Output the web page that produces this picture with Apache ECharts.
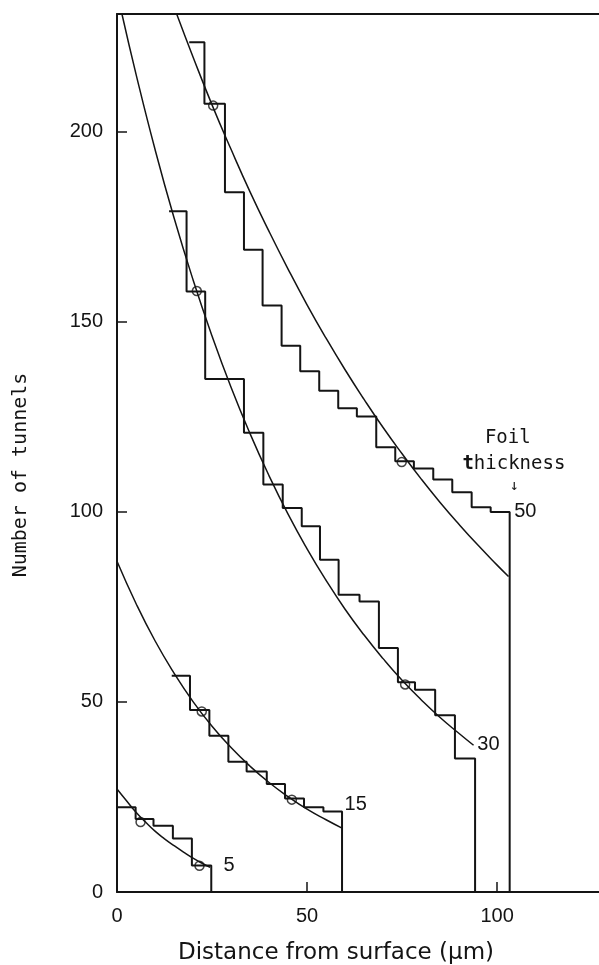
<!DOCTYPE html>
<html>
<head>
<meta charset="utf-8">
<script src="https://cdn.jsdelivr.net/npm/echarts@6.0.0/dist/echarts.min.js"></script>
<style>
html,body{margin:0;padding:0;background:#fff;}
#main{width:599px;height:965px;}
</style>
</head>
<body>
<div id="main"></div>
<script>
// tick labels
var xTicks = [0, 50, 100];
var yTicks = [0, 50, 100, 150, 200];

// histograms: bin edges (um) and tunnel counts per bin, one per foil thickness
var edges50  = [19.0, 23.0, 28.4, 33.4, 38.3, 43.3, 48.2, 53.2, 58.2, 63.1, 68.2, 73.2, 78.1, 83.2, 88.2, 93.3, 98.3, 103.3];
var counts50 = [223.6, 207.4, 184.1, 169.0, 154.3, 143.7, 137.0, 131.9, 127.3, 125.1, 117.0, 113.3, 111.4, 108.5, 105.2, 101.2, 100.0];
var edges30  = [13.7, 18.3, 23.2, 33.4, 38.5, 43.6, 48.6, 53.4, 58.3, 63.8, 68.9, 73.9, 78.4, 83.7, 88.9, 94.2];
var counts30 = [179.1, 158.0, 135.0, 120.8, 107.2, 101.0, 96.2, 87.4, 78.2, 76.4, 64.2, 55.2, 53.2, 46.5, 35.1];
var edges15  = [14.4, 19.2, 24.3, 29.3, 34.1, 39.4, 44.2, 49.2, 54.3, 59.2];
var counts15 = [56.9, 47.9, 41.1, 34.3, 31.7, 28.4, 24.6, 22.3, 21.2];
var edges5   = [0, 4.9, 9.6, 14.7, 19.7, 24.8];
var counts5  = [22.3, 19.2, 17.4, 14.1, 7.0];

// fitted curves
var curve50X = [15.7, 20, 25, 30, 35, 40, 45, 50, 55, 60, 65, 70, 75, 80, 85, 90, 95, 100, 103];
var curve50Y = [231, 219.7, 207.1, 195.4, 184.2, 173.8, 163.9, 154.5, 145.7, 137.4, 129.6, 122.2, 115.3, 108.7, 102.5, 96.7, 91.2, 86.0, 83.0];
var curve30X = [1.3, 5, 10, 15, 20, 25, 30, 35, 40, 45, 50, 55, 60, 65, 70, 75, 80, 85, 90, 93.8];
var curve30Y = [231, 215.2, 195.4, 177.4, 161.1, 146.3, 132.8, 120.6, 109.5, 99.4, 90.3, 82.0, 74.4, 67.6, 61.4, 55.7, 50.6, 45.9, 41.7, 38.6];
var curve15X = [0, 5, 10, 15, 20, 25, 30, 35, 40, 45, 50, 55, 59.2];
var curve15Y = [87.0, 75.9, 66.1, 57.6, 50.1, 43.6, 38.0, 33.1, 28.8, 25.1, 21.8, 19.0, 16.8];
var curve5X  = [0, 2.5, 5, 7.5, 10, 12.5, 15, 17.5, 20, 22.5, 24.5];
var curve5Y  = [27.1, 24.0, 21.0, 18.4, 16.0, 14.0, 12.2, 10.5, 8.9, 7.5, 6.5];

// open circles on the curves
var circleX = [25.3, 74.9, 21.0, 75.8, 22.3, 46.0, 6.2, 21.7];
var circleY = [206.9, 113.1, 158.1, 54.6, 47.5, 24.3, 18.4, 6.9];

// curve labels (foil thickness in um) and where they sit
var curveNames = ['5', '15', '30', '50'];
var curveNameX = [29.5, 62.8, 97.7, 107.4];
var curveNameY = [7.0, 23.0, 38.8, 100.2];

var ink = '#141414';

function steps(edges, counts) {
  var pts = [];
  for (var i = 0; i < counts.length; i++) {
    pts.push([edges[i], counts[i]]);
    pts.push([edges[i + 1], counts[i]]);
  }
  pts.push([edges[edges.length - 1], 0]);
  return pts;
}
function pairs(xs, ys) {
  var pts = [];
  for (var i = 0; i < xs.length; i++) pts.push([xs[i], ys[i]]);
  return pts;
}
function histSeries(name, edges, counts) {
  return {
    name: name, type: 'line', data: steps(edges, counts),
    symbol: 'none', lineStyle: {color: ink, width: 2}, z: 3
  };
}
function curveSeries(name, xs, ys) {
  return {
    name: name, type: 'line', data: pairs(xs, ys), smooth: true,
    symbol: 'none', lineStyle: {color: ink, width: 1.5}, z: 2
  };
}

var numLabel = {fontFamily: 'Liberation Sans', fontSize: 20, color: ink};

var chart = echarts.init(document.getElementById('main'), null, {renderer: 'canvas'});
chart.setOption({
  animation: false,
  backgroundColor: '#fff',
  grid: {left: 117, right: 0, top: 14, bottom: 73},
  xAxis: [{
    type: 'value', min: 0, max: 126.8,
    splitLine: {show: false},
    axisLine: {lineStyle: {color: ink, width: 2}},
    axisTick: {inside: true, length: 10, lineStyle: {color: ink, width: 1.5}, customValues: xTicks},
    axisLabel: Object.assign({margin: 14, customValues: xTicks}, numLabel)
  }, {
    // top frame line
    type: 'value', min: 0, max: 126.8, position: 'top',
    splitLine: {show: false},
    axisLine: {show: true, lineStyle: {color: ink, width: 2}},
    axisTick: {show: false}, axisLabel: {show: false}
  }],
  yAxis: {
    type: 'value', min: 0, max: 231,
    splitLine: {show: false},
    axisLine: {show: true, lineStyle: {color: ink, width: 2}},
    axisTick: {show: true, inside: true, length: 10, lineStyle: {color: ink, width: 1.5}, customValues: yTicks},
    axisLabel: Object.assign({margin: 14, customValues: yTicks}, numLabel)
  },
  series: [
    histSeries('50 hist', edges50, counts50),
    histSeries('30 hist', edges30, counts30),
    histSeries('15 hist', edges15, counts15),
    histSeries('5 hist', edges5, counts5),
    curveSeries('50 fit', curve50X, curve50Y),
    curveSeries('30 fit', curve30X, curve30Y),
    curveSeries('15 fit', curve15X, curve15Y),
    curveSeries('5 fit', curve5X, curve5Y),
    {
      name: 'points', type: 'scatter', data: pairs(circleX, circleY),
      symbol: 'circle', symbolSize: 9,
      itemStyle: {color: 'rgba(0,0,0,0)', borderColor: ink, borderWidth: 1.5}, z: 4
    }
  ]
});

// texts placed through the axes' own conversion
function txt(x, y, text, font, size, extra) {
  var p = chart.convertToPixel({gridIndex: 0}, [x, y]);
  return Object.assign({
    type: 'text', x: p[0], y: p[1], silent: true,
    style: Object.assign({text: text, fontFamily: font, fontSize: size, fill: ink,
      align: 'center', verticalAlign: 'middle'}, extra || {})
  });
}
var labels = [];
for (var i = 0; i < curveNames.length; i++) {
  labels.push(txt(curveNameX[i], curveNameY[i], curveNames[i], 'Liberation Sans', 20));
}
labels.push(txt(102.8, 119.3, 'Foil', 'DejaVu Sans Mono', 19));
labels.push(txt(104.4, 112.7, '{b|t}hickness', 'DejaVu Sans Mono', 19,
  {rich: {b: {fontFamily: 'DejaVu Sans Mono', fontSize: 19, fontWeight: 'bold', fill: ink}}}));
labels.push(txt(104.5, 106.7, '\u2193', 'DejaVu Sans Mono', 15));
labels.push({
  type: 'text', x: 21, y: 475, rotation: Math.PI / 2,
  style: {text: 'Number of tunnels', fontFamily: 'DejaVu Sans Mono', fontSize: 20,
    fill: ink, align: 'center', verticalAlign: 'middle'}
});
labels.push({
  type: 'text', x: 336, y: 953,
  style: {text: 'Distance from surface (\u03bcm)', fontFamily: 'DejaVu Sans', fontSize: 23,
    fill: ink, align: 'center', verticalAlign: 'middle'}
});
chart.setOption({graphic: labels});
</script>
</body>
</html>
